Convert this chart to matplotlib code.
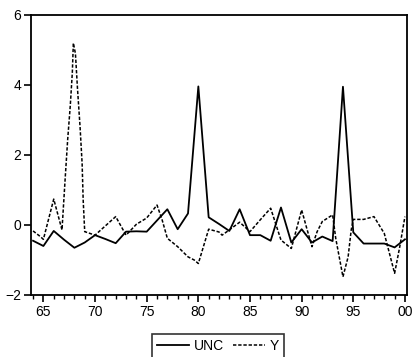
import matplotlib
matplotlib.use("Agg")
import matplotlib.pyplot as plt
from matplotlib.ticker import MultipleLocator, FixedLocator

plt.rcParams['font.family'] = ['Liberation Sans', 'DejaVu Sans']

# UNC: annual observations
unc_years = list(range(1964, 2001))
unc_values = [-0.45, -0.60, -0.17, -0.42, -0.65, -0.50, -0.29, -0.40, -0.52, -0.19,
              -0.18, -0.19, 0.13, 0.45, -0.12, 0.33, 3.96, 0.22, 0.03, -0.17,
              0.45, -0.29, -0.29, -0.45, 0.50, -0.50, -0.12, -0.50, -0.33, -0.46,
              3.95, -0.21, -0.53, -0.53, -0.53, -0.64, -0.41]

# Y: points
y_years = [1964.0, 1964.7, 1965.0, 1966.0, 1966.8, 1967.1, 1967.35, 1967.6, 1967.8,
           1967.9, 1968.1, 1968.3, 1968.55, 1968.75, 1968.85, 1969.0, 1970.0,
           1972.0, 1973.0, 1974.0, 1975.0, 1976.0, 1976.5, 1977.0, 1978.0,
           1979.0, 1979.6, 1980.0, 1981.0, 1982.0, 1982.3, 1983.0, 1984.0,
           1985.0, 1986.0, 1987.0, 1988.0, 1989.0, 1990.0, 1990.5, 1991.0,
           1991.5, 1992.0, 1993.0, 1993.3, 1994.0, 1994.5, 1994.8, 1995.0,
           1996.0, 1997.0, 1998.0, 1999.0, 1999.5, 2000.0]
y_values = [-0.17, -0.33, -0.41, 0.74, -0.14, 1.29, 2.44, 3.40, 4.35,
            5.20, 4.90, 3.90, 2.80, 1.75, 0.72, -0.19, -0.29,
            0.24, -0.29, 0.02, 0.20, 0.57, 0.14, -0.38, -0.62,
            -0.91, -1.00, -1.10, -0.12, -0.20, -0.29, -0.14, 0.08,
            -0.19, 0.15, 0.48, -0.43, -0.67, 0.43, -0.10, -0.62,
            -0.19, 0.10, 0.29, -0.38, -1.48, -0.91, -0.14, 0.16,
            0.16, 0.24, -0.24, -1.38, -0.62, 0.24]

major_years = [1965, 1970, 1975, 1980, 1985, 1990, 1995, 2000]
major_labels = ['65', '70', '75', '80', '85', '90', '95', '00']

W, H = 412, 357
fig = plt.figure(figsize=(W / 100, H / 100), dpi=100)
ax = fig.add_axes([31 / W, 1 - 295 / H, (407 - 31) / W, (295 - 15) / H])

ax.plot(unc_years, unc_values, color='black', lw=1.3, label='UNC')
ax.plot(y_years, y_values, color='black', lw=1.1, linestyle=(0, (2.2, 1.2)), label='Y')

ax.set_xlim(1963.8, 2000.2)
ax.set_ylim(-2, 6)
ax.set_yticks([-2, 0, 2, 4, 6])
ax.xaxis.set_major_locator(FixedLocator(major_years))
ax.set_xticklabels(major_labels)
ax.xaxis.set_minor_locator(FixedLocator(list(range(1964, 2001))))
ax.tick_params(axis='both', which='major', direction='out', length=5, width=1.2,
               labelsize=10, pad=2, colors='black')
ax.tick_params(axis='x', which='minor', direction='out', length=3, width=1.0)
for s in ax.spines.values():
    s.set_linewidth(1.3)
    s.set_color('black')

leg = fig.legend(loc='upper center', bbox_to_anchor=(218 / W, 1 - 334 / H),
                 ncol=2, frameon=True, fancybox=False, fontsize=10,
                 handlelength=2.3, handletextpad=0.4, columnspacing=0.6,
                 borderpad=0.35, borderaxespad=0)
leg.get_frame().set_edgecolor('black')
leg.get_frame().set_linewidth(1.2)

fig.savefig('out.png', dpi=100)
